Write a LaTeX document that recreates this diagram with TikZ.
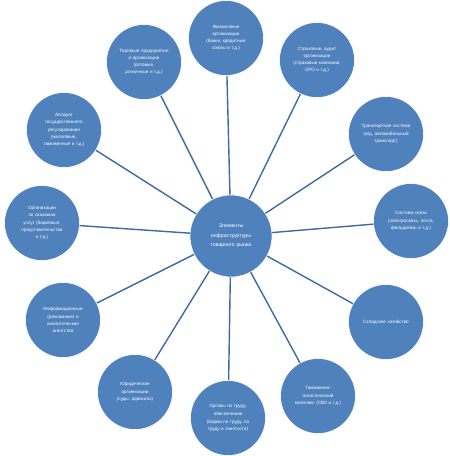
\documentclass[tikz,border=0pt]{standalone}
\usepackage{fontspec}
\setmainfont{Liberation Sans}
\definecolor{ballblue}{RGB}{79,129,189}
\definecolor{spokeblue}{RGB}{62,106,160}

\begin{document}
\begin{tikzpicture}[x=1pt, y=-1pt,
  ball/.style={circle, fill=ballblue, draw=white, line width=0.6pt,
    minimum size=75pt, inner sep=1pt, text=white, align=center,
    text width=50pt, font=\fontsize{4.6}{7.2}\selectfont},
  hub/.style={ball, minimum size=82pt, text width=60pt,
    font=\fontsize{5.2}{9.5}\selectfont},
  spoke/.style={draw=spokeblue, line width=1.4pt}]
  \useasboundingbox (0,0) rectangle (450,456);

  % Centre
  \node[hub] (hub) at (231,236) {Элементы\\ инфраструктуры\\ товарного рынка};

  % Outer ring, clockwise from the top
  \node[ball] (fin) at (226,38) {Финансовые организации (банки, кредитные союзы и т.д.)};
  \node[ball] (ins) at (317,60) {Страховые, аудит\\ организации\\ (страховые компании, СРО и т.д.)};
  \node[ball] (trans) at (386,134) {Транспортная система (ж/д, автомобильный транспорт)};
  \node[ball] (comm) at (411,221) {Система связи (электросвязь, почта, фельдсвязь и т.д.)};
  \node[ball] (store) at (386,322) {Складское хозяйство};
  \node[ball] (cust) at (318,396) {Таможенно-логистический комплекс (СВХ и т.д.)};
  \node[ball] (labour) at (228,418) {Органы по труду, обеспечению\\[1pt] (биржи по труду, по труду и занятости)};
  \node[ball] (law) at (135,392) {Юридические организации (суды, адвокаты)};
  \node[ball] (info) at (63,320) {Информационные (рекламные) и аналитические агентства};
  \node[ball] (serv) at (42,223) {Организации по оказанию услуг (биржевые, представительства и т.д.)};
  \node[ball] (gov) at (64,130) {Аппарат государственного регулирования (налоговые, таможенные и т.д.)};
  \node[ball] (trade) at (144,62) {Торговые предприятия и организации (оптовые, розничные и т.д.)};

  % Spokes
  \foreach \n in {fin,ins,trans,comm,store,cust,labour,law,info,serv,gov,trade}
    \draw[spoke] (hub) -- (\n);
\end{tikzpicture}
\end{document}
